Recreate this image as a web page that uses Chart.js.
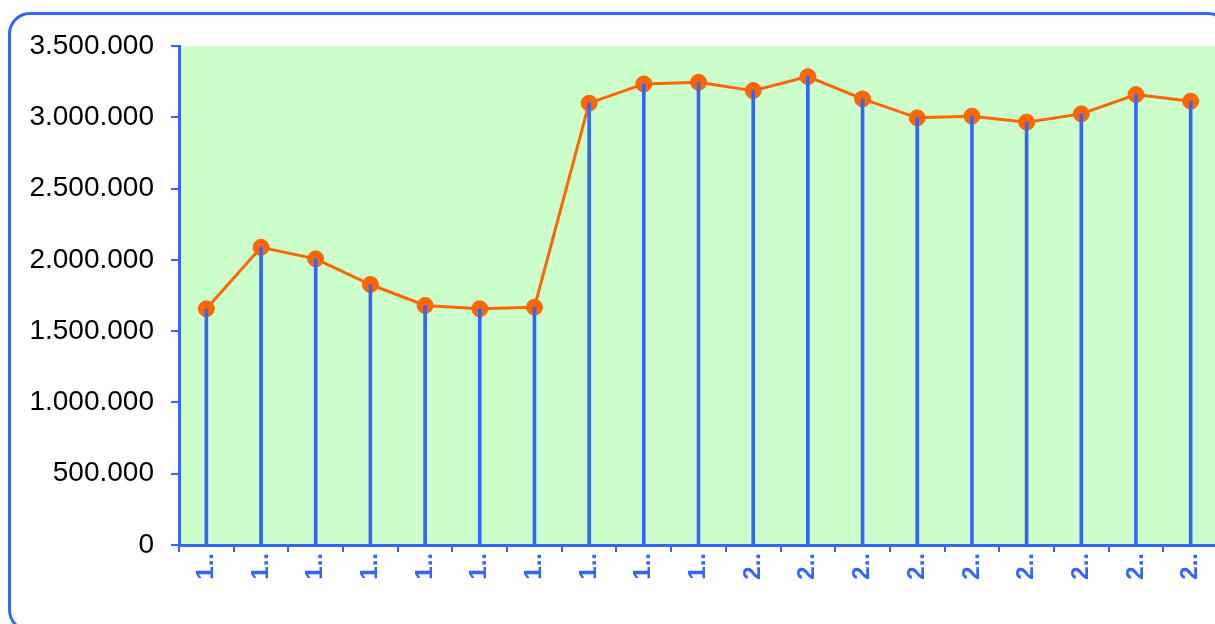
<!DOCTYPE html>
<html>
<head>
<meta charset="utf-8">
<script src="https://cdn.jsdelivr.net/npm/chart.js@4/dist/chart.umd.min.js"></script>
<style>
  html, body { margin: 0; padding: 0; overflow: hidden; background: #ffffff; width: 1215px; height: 624px; }
  #frame { position: absolute; left: 7.5px; top: 12px; width: 1222px; height: 620px; box-sizing: border-box;
           border: 3px solid #3366FF; border-radius: 22px; }
  #wrap { position: absolute; left: 0; top: 0; width: 1240px; height: 624px; }
</style>
</head>
<body>
<div id="frame"></div>
<div id="wrap"><canvas id="c" width="1240" height="624" style="width:1240px;height:624px"></canvas></div>
<script>
// ---- data ----
const categories = ["1..", "1..", "1..", "1..", "1..", "1..", "1..", "1..", "1..", "1..",
                    "2..", "2..", "2..", "2..", "2..", "2..", "2..", "2..", "2.."];
const values = [1657000, 2088000, 2007000, 1827000, 1680000, 1657000, 1668000,
                3099000, 3234000, 3246000, 3187000, 3285000, 3129000, 2996000,
                3008000, 2966000, 3024000, 3159000, 3113000];
const yTicks = [0, 500000, 1000000, 1500000, 2000000, 2500000, 3000000, 3500000];

const BLUE = '#3366FF';
const ORANGE = '#FF6600';
const PLOT_BG = '#CCFFCC';

function fmtDE(v) {
  return String(Math.round(v)).replace(/\B(?=(\d{3})+(?!\d))/g, '.');
}

const plotBg = {
  id: 'plotBg',
  beforeDraw(chart) {
    const { ctx, chartArea: a } = chart;
    ctx.save();
    ctx.fillStyle = PLOT_BG;
    ctx.fillRect(a.left, a.top, a.right - a.left, a.bottom - a.top);
    ctx.restore();
  }
};

new Chart(document.getElementById('c'), {
  type: 'bar',
  data: {
    labels: categories,
    datasets: [
      {
        type: 'bar',
        data: values,
        backgroundColor: BLUE,
        borderWidth: 0,
        barThickness: 3,
        order: 0
      },
      {
        type: 'line',
        data: values,
        borderColor: ORANGE,
        backgroundColor: ORANGE,
        borderWidth: 3,
        pointRadius: 8,
        pointBorderWidth: 1,
        pointBorderColor: ORANGE,
        pointBackgroundColor: ORANGE,
        tension: 0,
        fill: false,
        order: 1
      }
    ]
  },
  options: {
    responsive: false,
    animation: false,
    devicePixelRatio: 1,
    layout: { padding: { top: 46, right: 22, bottom: 0, left: 0 } },
    plugins: { legend: { display: false }, tooltip: { enabled: false } },
    scales: {
      x: {
        type: 'category',
        offset: true,
        afterFit(scale) { scale.height = 79; },
        border: { display: true, color: BLUE, width: 3 },
        grid: { display: true, offset: true, drawOnChartArea: false, drawTicks: true, tickLength: 7, color: BLUE, lineWidth: 2 },
        ticks: {
          autoSkip: false, minRotation: 90, maxRotation: 90, padding: 1,
          color: BLUE,
          font: { family: '"Liberation Sans", Arial, sans-serif', size: 24, weight: 'bold' }
        }
      },
      y: {
        min: 0, max: 3500000,
        afterFit(scale) { scale.width = 179; },
        afterBuildTicks(scale) { scale.ticks = yTicks.map(v => ({ value: v })); },
        border: { display: true, color: BLUE, width: 3 },
        grid: { display: true, drawOnChartArea: false, drawTicks: true, tickLength: 8, color: BLUE, lineWidth: 2 },
        ticks: {
          padding: 17,
          color: '#000000',
          font: { family: '"Liberation Sans", Arial, sans-serif', size: 28 },
          callback: (v) => fmtDE(v)
        }
      }
    }
  },
  plugins: [plotBg]
});
</script>
</body>
</html>
